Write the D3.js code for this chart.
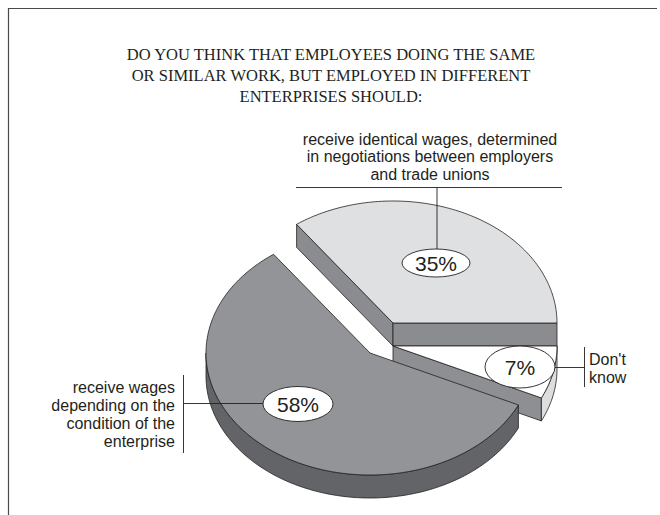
<!DOCTYPE html>
<html>
<head>
<meta charset="utf-8">
<script src="https://cdn.jsdelivr.net/npm/d3@7"></script>
<style>
  html, body { margin: 0; padding: 0; background: #fff; }
  svg { display: block; }
</style>
</head>
<body>
<svg id="chart" width="660" height="515"></svg>
<script>
// ---- data ----
const titleLines = [
  "DO YOU THINK THAT EMPLOYEES DOING THE SAME",
  "OR SIMILAR WORK, BUT EMPLOYED IN DIFFERENT",
  "ENTERPRISES SHOULD:"
];
const categories = ["identical", "dontknow", "depending"];
const values = [35, 7, 58];
const categoryLabels = [
  ["receive identical wages, determined", "in negotiations between employers", "and trade unions"],
  ["Don't", "know"],
  ["receive wages", "depending on the", "condition of the", "enterprise"]
];

// ---- layout & style ----
const W = 660, H = 515;
const rx = 164, ry = 122, depth = 23;
const center = [385, 340];
const offsets = { identical: [8, -17], dontknow: [8, 6], depending: [-15, 13] };
const topFill = { identical: "#dfe0e2", dontknow: "#ffffff", depending: "#939497" };
const faceFill = { identical: "#8b8c8f", dontknow: "#8e8f92", depending: "#636467" };
const rimFill = { identical: "#8b8c8f", dontknow: "#dcdddf", depending: "#636467" };
const ink = "#231f20";
const sans = "'Liberation Sans', Arial, sans-serif";
const serif = "'Liberation Serif', 'Times New Roman', serif";

const svg = d3.select("#chart");

// frame
svg.append("path")
  .attr("d", "M8.5,515 V8.5 H657")
  .attr("fill", "none").attr("stroke", "#4a4a4a").attr("stroke-width", 1.2);

// title
svg.append("g").selectAll("text").data(titleLines).join("text")
  .attr("x", 331).attr("y", (d, i) => 60 + i * 21)
  .attr("text-anchor", "middle")
  .attr("font-family", serif).attr("font-size", 16.5)
  .attr("fill", ink)
  .text(d => d);

// ---- 3D pie ----
const data = categories.map((c, i) => ({ key: c, value: values[i] }));
const pie = d3.pie().sort(null).value(d => d.value)
  .startAngle(-36 * Math.PI / 180).endAngle(324 * Math.PI / 180);
const arcs = pie(data);

const line = d3.line();
const pt = (a, t, dy = 0) => [a[0] + rx * Math.cos(t), a[1] - ry * Math.sin(t) + dy];
const arcPoints = (a, tFrom, tTo, dy = 0) => {
  const n = Math.max(2, Math.ceil(Math.abs(tTo - tFrom) / 0.02));
  return d3.range(n + 1).map(i => pt(a, tFrom + (tTo - tFrom) * i / n, dy));
};

const gPie = svg.append("g")
  .attr("stroke", ink).attr("stroke-width", 0.8).attr("stroke-linejoin", "round");

arcs.forEach(s => {
  const k = s.data.key;
  const apex = [center[0] + offsets[k][0], center[1] + offsets[k][1]];
  const t0 = Math.PI / 2 - s.startAngle;   // math angle, counter-clockwise
  const t1 = Math.PI / 2 - s.endAngle;     // t1 < t0
  const g = gPie.append("g").attr("class", "slice-" + k);

  // radial cut faces facing the viewer
  const radial = (t) => {
    const p = pt(apex, t);
    return line([apex, p, [p[0], p[1] + depth], [apex[0], apex[1] + depth]]) + "Z";
  };
  if (Math.cos(t0) < -1e-6) g.append("path").attr("d", radial(t0)).attr("fill", faceFill[k]);
  if (Math.cos(t1) > 1e-6) g.append("path").attr("d", radial(t1)).attr("fill", faceFill[k]);

  // curved outer wall on the front half
  for (let m = -1; m <= 1; m++) {
    const lo = Math.max(t1, -Math.PI + 2 * Math.PI * m);
    const hi = Math.min(t0, 2 * Math.PI * m);
    if (hi - lo > 1e-4) {
      const top = arcPoints(apex, lo, hi);
      const bot = arcPoints(apex, hi, lo, depth);
      g.append("path").attr("d", line(top.concat(bot)) + "Z").attr("fill", rimFill[k]);
    }
  }

  // top face
  g.append("path")
    .attr("d", line([apex].concat(arcPoints(apex, t0, t1))) + "Z")
    .attr("fill", topFill[k]);
});

// ---- labels ----
const labelLayout = {
  identical: { ellipse: [436, 263, 34, 14] },
  dontknow: { ellipse: [520, 367, 35, 21] },
  depending: { ellipse: [298, 404, 35, 17.5] }
};
const gLab = svg.append("g").attr("stroke", ink).attr("stroke-width", 0.9);

// leader for "identical"
gLab.append("path").attr("d", "M296,187.5 H562 M437,187.5 V249").attr("fill", "none");
// leader for "don't know"
gLab.append("path").attr("d", "M555,367.5 H584.5 M584.5,347 V387").attr("fill", "none");
// leader for "depending"
gLab.append("path").attr("d", "M263,403.5 H183.5 M183.5,375 V453").attr("fill", "none");

categories.forEach((k, i) => {
  const [cx, cy, erx, ery] = labelLayout[k].ellipse;
  gLab.append("ellipse").attr("cx", cx).attr("cy", cy).attr("rx", erx).attr("ry", ery)
    .attr("fill", "#fff");
  svg.append("text").attr("x", cx).attr("y", cy).attr("dy", "0.36em")
    .attr("text-anchor", "middle").attr("font-family", sans).attr("font-size", 21)
    .attr("fill", ink).text(values[i] + "%");
});

const textBlock = (lines, x, y0, step, anchor) => {
  svg.append("g").selectAll("text").data(lines).join("text")
    .attr("x", x).attr("y", (d, i) => y0 + i * step)
    .attr("text-anchor", anchor)
    .attr("font-family", sans).attr("font-size", 16)
    .attr("fill", ink).text(d => d);
};
textBlock(categoryLabels[0], 430, 145, 17.3, "middle");
textBlock(categoryLabels[1], 589, 365, 18, "start");
textBlock(categoryLabels[2], 175, 393, 18, "end");
</script>
</body>
</html>
